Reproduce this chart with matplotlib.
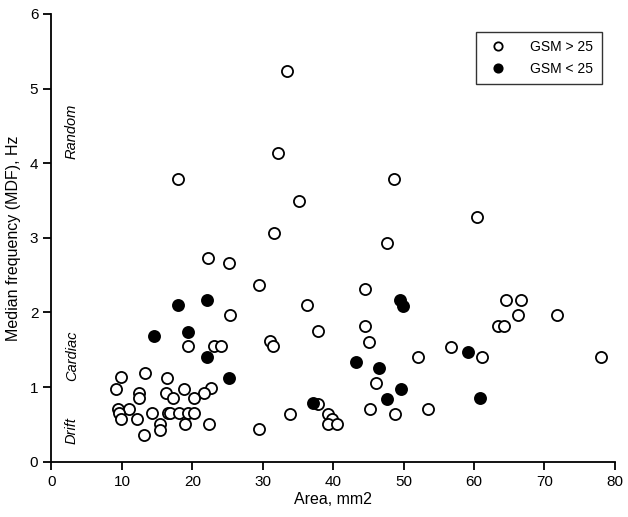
import matplotlib.pyplot as plt
import numpy as np

plt.rcParams['font.family'] = ['Liberation Sans', 'DejaVu Sans']

# GSM > 25 (open circles)
area_hi = [33.5, 32.2, 17.9, 48.6, 35.2, 31.6, 60.4, 47.7, 22.2, 25.2,
           29.4, 44.5, 36.3, 25.4, 44.5, 37.9, 45.1, 31.1, 31.5, 64.6,
           66.7, 66.3, 71.8, 63.4, 64.2, 56.7, 52.1, 61.1, 78.1, 46.1,
           45.3, 48.8, 53.5, 37.8, 33.9, 39.2, 39.9, 39.2, 40.5, 29.5,
           19.4, 23.1, 24.1, 16.4, 13.3, 9.8, 9.1, 18.8, 22.6, 12.4,
           12.4, 16.2, 17.3, 21.6, 20.3, 9.5, 11.0, 9.6, 9.8, 12.2,
           14.3, 16.6, 16.9, 18.1, 19.4, 20.3, 15.4, 15.4, 19.0, 22.3,
           13.2]
mdf_hi = [5.24, 4.13, 3.79, 3.79, 3.49, 3.07, 3.28, 2.93, 2.73, 2.66,
          2.37, 2.31, 2.10, 1.96, 1.82, 1.75, 1.61, 1.62, 1.55, 2.17,
          2.17, 1.96, 1.96, 1.82, 1.82, 1.54, 1.40, 1.40, 1.40, 1.05,
          0.71, 0.64, 0.71, 0.77, 0.64, 0.64, 0.57, 0.50, 0.50, 0.44,
          1.55, 1.55, 1.55, 1.12, 1.19, 1.13, 0.98, 0.98, 0.99, 0.92,
          0.85, 0.92, 0.85, 0.92, 0.85, 0.71, 0.70, 0.65, 0.57, 0.57,
          0.65, 0.65, 0.65, 0.65, 0.65, 0.65, 0.50, 0.43, 0.50, 0.50,
          0.36]

# GSM < 25 (filled circles)
area_lo = [14.5, 19.4, 17.9, 22.1, 22.1, 25.2, 37.1, 43.3, 46.5, 49.5,
           49.9, 49.7, 47.7, 59.1, 60.8]
mdf_lo = [1.68, 1.74, 2.10, 2.17, 1.40, 1.12, 0.78, 1.33, 1.26, 2.17,
          2.09, 0.98, 0.84, 1.47, 0.85]

fig = plt.figure(figsize=(6.28, 5.17), dpi=100)
ax = fig.add_axes([0.082, 0.107, 0.897, 0.866])

ax.plot(area_hi, mdf_hi, 'o', ms=8, mfc='white', mec='black', mew=1.3,
        linestyle='none', label='GSM > 25')
ax.plot(area_lo, mdf_lo, 'o', ms=8, mfc='black', mec='black', mew=1.3,
        linestyle='none', label='GSM < 25')

ax.set_xlim(0, 80)
ax.set_ylim(0, 6)
ax.set_xticks(np.arange(0, 81, 10))
ax.set_yticks(np.arange(0, 7, 1))
ax.spines['top'].set_visible(False)
ax.spines['right'].set_visible(False)
ax.spines['left'].set_linewidth(1.3)
ax.spines['bottom'].set_linewidth(1.3)
ax.tick_params(direction='out', length=6, width=1.3, labelsize=11)

ax.set_xlabel('Area, mm2', fontsize=11.5, labelpad=2)
ax.set_ylabel('Median frequency (MDF), Hz', fontsize=11.5, labelpad=6)

for label, yc in [('Random', 4.42), ('Cardiac', 1.42), ('Drift', 0.42)]:
    ax.text(2.9, yc, label, rotation=90, style='italic', fontsize=10.5,
            ha='center', va='center')

leg = ax.legend(loc='upper right', bbox_to_anchor=(0.958, 0.939),
                bbox_transform=fig.transFigure, fancybox=False,
                edgecolor='black', fontsize=10, markerscale=0.75,
                borderpad=0.6, handletextpad=1.3, labelspacing=0.55,
                borderaxespad=0)
leg.get_frame().set_linewidth(1.0)

fig.savefig('out.png', dpi=100)
